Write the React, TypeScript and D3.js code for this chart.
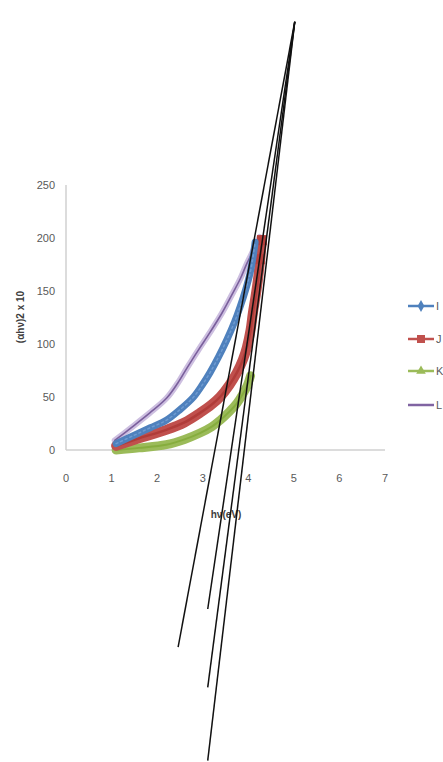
import { useEffect, useRef } from 'react';
import * as d3 from 'd3';

// x ticks and y ticks
const xTicks = [0, 1, 2, 3, 4, 5, 6, 7];
const yTicks = [0, 50, 100, 150, 200, 250];

// series: [hv, value]
const seriesI: [number, number][] = [
  [1.1, 6], [1.5, 14], [1.85, 21], [2.2, 28], [2.5, 38], [2.8, 50], [3.0, 62],
  [3.16, 73], [3.35, 88], [3.53, 104], [3.7, 121], [3.82, 135], [3.94, 151],
  [4.04, 167], [4.1, 181], [4.15, 196],
];
const seriesJ: [number, number][] = [
  [1.1, 4], [1.6, 11], [2.2, 19], [2.6, 26], [2.94, 35], [3.2, 43], [3.38, 50],
  [3.58, 61], [3.75, 73], [3.88, 85], [3.97, 97], [4.05, 113], [4.1, 129],
  [4.16, 145], [4.21, 160], [4.26, 180], [4.3, 198],
];
const seriesK: [number, number][] = [
  [1.1, 0], [1.6, 2], [2.2, 5], [2.6, 10], [2.94, 16], [3.2, 22], [3.38, 28],
  [3.58, 36], [3.75, 44], [3.87, 52], [3.97, 60], [4.05, 70],
];
const seriesL: [number, number][] = [
  [1.07, 9], [1.4, 20], [1.84, 35], [2.21, 49], [2.45, 63], [2.65, 77],
  [2.9, 94], [3.16, 111], [3.42, 129], [3.66, 148], [3.83, 162], [3.97, 176],
  [4.12, 189], [4.25, 201],
];

const seriesNames = ['I', 'J', 'K', 'L'];
const seriesColors = ['#4F81BD', '#C0504D', '#9BBB59', '#8064A2'];

// tangent lines: common upper point, lower end points
const tangentTop: [number, number] = [5.02, 404];
const tangentBottoms: [number, number][] = [
  [2.46, -186], [3.11, -150], [3.11, -224], [3.11, -293],
];

const W = 443;
const H = 762;

const App = () => {
  const svgRef = useRef<SVGSVGElement>(null);

  useEffect(() => {
    if (!svgRef.current) return;
    const svg = d3.select(svgRef.current);
    svg.selectAll('*').remove();

    const x = d3.scaleLinear().domain([0, 7]).range([66, 385]);
    const y = d3.scaleLinear().domain([0, 250]).range([450, 185]);
    const font = "'Liberation Sans', Arial, sans-serif";

    // axes lines
    svg.append('line')
      .attr('x1', x(0)).attr('x2', x(0))
      .attr('y1', y(0)).attr('y2', y(250))
      .attr('stroke', '#d0d0d0').attr('stroke-width', 1.5);
    svg.append('line')
      .attr('x1', x(0)).attr('x2', x(7))
      .attr('y1', y(0)).attr('y2', y(0))
      .attr('stroke', '#d0d0d0').attr('stroke-width', 1.5);

    // tick labels
    svg.append('g').selectAll('text')
      .data(yTicks).enter().append('text')
      .attr('x', 55).attr('y', d => y(d))
      .attr('dy', '0.35em')
      .attr('text-anchor', 'end')
      .attr('font-family', font).attr('font-size', 11)
      .attr('fill', '#595959')
      .text(d => d);
    svg.append('g').selectAll('text')
      .data(xTicks).enter().append('text')
      .attr('x', d => x(d)).attr('y', 478)
      .attr('dy', '0.35em')
      .attr('text-anchor', 'middle')
      .attr('font-family', font).attr('font-size', 11)
      .attr('fill', '#595959')
      .text(d => d);

    // axis titles
    svg.append('text')
      .attr('transform', `translate(20,${317}) rotate(-90)`)
      .attr('text-anchor', 'middle')
      .attr('dy', '0.35em')
      .attr('font-family', font).attr('font-size', 10).attr('font-weight', 'bold')
      .attr('fill', '#404040')
      .text('(αhν)2 x 10');
    svg.append('text')
      .attr('x', 226).attr('y', 514)
      .attr('text-anchor', 'middle')
      .attr('dy', '0.35em')
      .attr('font-family', font).attr('font-size', 10).attr('font-weight', 'bold')
      .attr('fill', '#404040')
      .text('hν(eV)');

    const line = d3.line<[number, number]>()
      .x(d => x(d[0]))
      .y(d => y(d[1]))
      .curve(d3.curveCatmullRom.alpha(0.5));

    const g = svg.append('g').attr('fill', 'none')
      .attr('stroke-linecap', 'round').attr('stroke-linejoin', 'round');

    // purple L: light halo with a thin darker line
    g.append('path').datum(seriesL).attr('d', line)
      .attr('stroke', '#cdbfe0').attr('stroke-width', 6);
    g.append('path').datum(seriesL).attr('d', line)
      .attr('stroke', '#7a5f9c').attr('stroke-width', 1.6);

    // green K band
    g.append('path').datum(seriesK).attr('d', line)
      .attr('stroke', '#9BBB59').attr('stroke-width', 9);
    g.append('path').datum(seriesK).attr('d', line)
      .attr('stroke', '#86ad3e').attr('stroke-width', 2);

    // red J band
    g.append('path').datum(seriesJ).attr('d', line)
      .attr('stroke', '#C0504D').attr('stroke-width', 10);
    g.append('path').datum(seriesJ).attr('d', line)
      .attr('stroke', '#b03c39').attr('stroke-width', 2.5);
    g.append('g').selectAll('rect')
      .data(seriesJ.slice(-2)).enter().append('rect')
      .attr('x', d => x(d[0]) - 5).attr('y', d => y(d[1]) - 5)
      .attr('width', 10).attr('height', 10)
      .attr('fill', '#b8403d');

    // blue I band
    g.append('path').datum(seriesI).attr('d', line)
      .attr('stroke', '#4F81BD').attr('stroke-width', 7);
    g.append('path').datum(seriesI).attr('d', line)
      .attr('stroke', '#6f9bd1').attr('stroke-width', 1.5)
      .attr('stroke-dasharray', '2,3');

    // black tangent lines
    svg.append('g').selectAll('line')
      .data(tangentBottoms).enter().append('line')
      .attr('x1', x(tangentTop[0])).attr('y1', y(tangentTop[1]))
      .attr('x2', d => x(d[0])).attr('y2', d => y(d[1]))
      .attr('stroke', '#111').attr('stroke-width', 1.5);

    // legend
    const lg = svg.append('g');
    const ly = [306, 339, 371, 405];
    seriesNames.forEach((name, i) => {
      const c = seriesColors[i];
      lg.append('line')
        .attr('x1', 408).attr('x2', 434)
        .attr('y1', ly[i]).attr('y2', ly[i])
        .attr('stroke', c).attr('stroke-width', 2.5);
      if (i === 0) {
        lg.append('path')
          .attr('d', d3.symbol(d3.symbolDiamond, 40)())
          .attr('transform', `translate(421,${ly[i]})`)
          .attr('fill', c);
      } else if (i === 1) {
        lg.append('rect')
          .attr('x', 417).attr('y', ly[i] - 4)
          .attr('width', 8).attr('height', 8).attr('fill', c);
      } else if (i === 2) {
        lg.append('path')
          .attr('d', d3.symbol(d3.symbolTriangle, 40)())
          .attr('transform', `translate(421,${ly[i]})`)
          .attr('fill', c);
      }
      lg.append('text')
        .attr('x', 436).attr('y', ly[i])
        .attr('dy', '0.35em')
        .attr('font-family', font).attr('font-size', 11)
        .attr('fill', '#595959')
        .text(name);
    });
  }, []);

  return (
    <svg
      ref={svgRef}
      width={W}
      height={H}
      style={{ position: 'absolute', left: 0, top: 0, background: '#fff' }}
    />
  );
};

export default App;
